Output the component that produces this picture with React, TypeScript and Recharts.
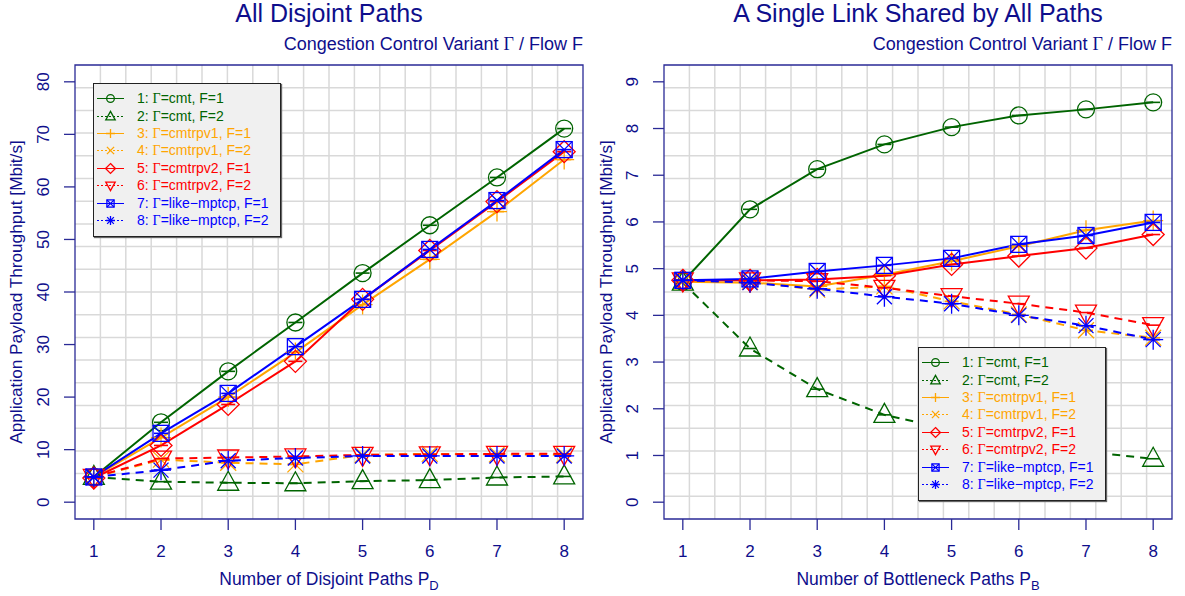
import React from "react";
import { LineChart, Line, XAxis, YAxis, CartesianGrid, ReferenceArea, Legend, Label } from "recharts";

// x values: number of paths
const paths = [1, 2, 3, 4, 5, 6, 7, 8];

// left panel: all disjoint paths [Mbit/s]
const disjointCmtF1 = [4.8, 15.2, 24.9, 34.2, 43.6, 52.7, 61.8, 71.1];
const disjointCmtF2 = [4.8, 3.9, 3.7, 3.6, 4.0, 4.2, 4.7, 4.9];
const disjointRpv1F1 = [4.8, 12.3, 20.0, 28.5, 37.6, 46.2, 55.3, 65.2];
const disjointRpv1F2 = [4.8, 8.1, 7.5, 7.2, 9.0, 9.2, 9.1, 9.0];
const disjointRpv2F1 = [4.6, 10.8, 18.6, 26.8, 38.6, 47.9, 57.2, 66.7];
const disjointRpv2F2 = [4.8, 8.3, 8.5, 8.7, 9.0, 9.1, 9.2, 9.2];
const disjointMptcpF1 = [4.8, 13.1, 20.7, 29.6, 38.6, 48.1, 57.4, 67.1];
const disjointMptcpF2 = [4.8, 6.1, 7.9, 8.4, 8.8, 8.8, 8.8, 8.8];

// right panel: single shared link [Mbit/s]
const sharedCmtF1 = [4.72, 6.27, 7.13, 7.66, 8.03, 8.28, 8.41, 8.56];
const sharedCmtF2 = [4.7, 3.29, 2.42, 1.87, 1.55, 1.28, 1.08, 0.93];
const sharedRpv1F1 = [4.72, 4.7, 4.62, 4.87, 5.16, 5.48, 5.82, 6.03];
const sharedRpv1F2 = [4.72, 4.72, 4.55, 4.62, 4.3, 4.02, 3.68, 3.52];
const sharedRpv2F1 = [4.75, 4.75, 4.77, 4.85, 5.09, 5.27, 5.44, 5.73];
const sharedRpv2F2 = [4.75, 4.75, 4.73, 4.59, 4.41, 4.25, 4.06, 3.79];
const sharedMptcpF1 = [4.75, 4.78, 4.94, 5.07, 5.22, 5.52, 5.71, 5.99];
const sharedMptcpF2 = [4.75, 4.7, 4.57, 4.4, 4.25, 4.0, 3.78, 3.48];

const variants = ["cmt", "cmt", "cmtrpv1", "cmtrpv1", "cmtrpv2", "cmtrpv2", "like\u2212mptcp", "like\u2212mptcp"];
const flows = [1, 2, 1, 2, 1, 2, 1, 2];

const leftTicks = [0, 10, 20, 30, 40, 50, 60, 70, 80];
const rightTicks = [0, 1, 2, 3, 4, 5, 6, 7, 8, 9];

// styles
const colors = ["#006400", "#006400", "#FFA500", "#FFA500", "#FF0000", "#FF0000", "#0000FF", "#0000FF"];
const shapes = ["circle", "triUp", "plus", "cross", "diamond", "triDown", "boxX", "star"];

const FONT = "'Liberation Sans', Arial, Helvetica, sans-serif";
const SERIF = "'Liberation Serif', 'DejaVu Serif', serif";
const NAVY = "#0e0e8c";
const AXIS = "#2a2a96";
const H = 596;
const PLOT_TOP = 65;
const PLOT_BOTTOM = 519;
const X_DOMAIN: [number, number] = [0.72, 8.28];

function Marker({ cx, cy, shape, color, k = 1, cap = false }: any) {
  if (cx == null || cy == null) return null;
  const st = { fill: "none", stroke: color, strokeWidth: 1.3 };
  let body: React.ReactNode = null;
  switch (shape) {
    case "circle":
      body = <circle cx={cx} cy={cy} r={8.5 * k} {...st} />;
      break;
    case "triUp":
      body = (
        <polygon
          points={`${cx},${cy - 11.5 * k} ${cx - 10.5 * k},${cy + 7.5 * k} ${cx + 10.5 * k},${cy + 7.5 * k}`}
          {...st}
        />
      );
      break;
    case "triDown":
      body = (
        <polygon
          points={`${cx},${cy + 11.5 * k} ${cx - 10.5 * k},${cy - 7.5 * k} ${cx + 10.5 * k},${cy - 7.5 * k}`}
          {...st}
        />
      );
      break;
    case "plus":
      body = (
        <path d={`M${cx - 10 * k},${cy}H${cx + 10 * k}M${cx},${cy - 10 * k}V${cy + 10 * k}`} {...st} />
      );
      break;
    case "cross":
      body = (
        <path
          d={`M${cx - 8 * k},${cy - 8 * k}L${cx + 8 * k},${cy + 8 * k}M${cx - 8 * k},${cy + 8 * k}L${cx + 8 * k},${cy - 8 * k}`}
          {...st}
        />
      );
      break;
    case "diamond":
      body = (
        <polygon
          points={`${cx},${cy - 11 * k} ${cx + 11 * k},${cy} ${cx},${cy + 11 * k} ${cx - 11 * k},${cy}`}
          {...st}
        />
      );
      break;
    case "boxX":
      body = (
        <g>
          <rect x={cx - 8 * k} y={cy - 8 * k} width={16 * k} height={16 * k} {...st} />
          <path
            d={`M${cx - 8 * k},${cy - 8 * k}L${cx + 8 * k},${cy + 8 * k}M${cx - 8 * k},${cy + 8 * k}L${cx + 8 * k},${cy - 8 * k}`}
            {...st}
          />
        </g>
      );
      break;
    case "star":
      body = (
        <path
          d={`M${cx - 10 * k},${cy}H${cx + 10 * k}M${cx},${cy - 10 * k}V${cy + 10 * k}M${cx - 7.5 * k},${cy - 7.5 * k}L${cx + 7.5 * k},${cy + 7.5 * k}M${cx - 7.5 * k},${cy + 7.5 * k}L${cx + 7.5 * k},${cy - 7.5 * k}`}
          {...st}
        />
      );
      break;
  }
  return (
    <g>
      {body}
      {cap && <line x1={cx - 7} x2={cx + 7} y1={cy} y2={cy} stroke={color} strokeWidth={1.6} />}
    </g>
  );
}

const LegendBox = () => (
  <div
    style={{
      width: 188,
      height: 154,
      boxSizing: "border-box",
      background: "#f0f0f0",
      border: "1px solid #222",
      boxShadow: "1px 1px 1px #666",
      paddingTop: 6,
      fontFamily: FONT,
      fontSize: 14,
    }}
  >
    {variants.map((v, i) => (
      <div key={i} style={{ display: "flex", alignItems: "center", height: 17.4, color: colors[i] }}>
        <svg width={43} height={17} style={{ flex: "none" }}>
          <line
            x1={3}
            x2={30}
            y1={8.5}
            y2={8.5}
            stroke={colors[i]}
            strokeWidth={1}
            strokeDasharray={flows[i] === 2 ? "2 2" : undefined}
          />
          <Marker cx={16.5} cy={8.5} shape={shapes[i]} color={colors[i]} k={0.45} />
        </svg>
        <span style={{ whiteSpace: "nowrap" }}>
          {i + 1}: <span style={{ fontFamily: SERIF }}>Γ</span>={v}, F={flows[i]}
        </span>
      </div>
    ))}
  </div>
);

function Panel({ x, width, plotLeft, plotRight, title, xMain, xSub, yDomain, yTicks, series, legendLeft, legendTop }: any) {
  const rows = paths.map((p, i) => {
    const r: any = { p };
    series.forEach((s: number[], j: number) => (r["s" + j] = s[i]));
    return r;
  });
  const vPts = Array.from({ length: 19 }, (_, k) => plotLeft + ((k + 1) * (plotRight - plotLeft)) / 20);
  const hPts = Array.from({ length: 19 }, (_, k) => PLOT_TOP + ((k + 1) * (PLOT_BOTTOM - PLOT_TOP)) / 20);
  const cx = (plotLeft + plotRight) / 2;
  const cy = (PLOT_TOP + PLOT_BOTTOM) / 2;

  return (
    <div style={{ position: "absolute", left: x, top: 0, width, height: H }}>
      <svg width={width} height={60} style={{ position: "absolute", left: 0, top: 0, fontFamily: FONT }}>
        <text x={cx} y={22} textAnchor="middle" fontSize={25} fill={NAVY}>
          {title}
        </text>
        <text x={plotRight} y={50} textAnchor="end" fontSize={18} fill={NAVY}>
          Congestion Control Variant <tspan fontFamily={SERIF}>Γ</tspan> / Flow F
        </text>
      </svg>
      <LineChart
        width={width}
        height={H}
        data={rows}
        margin={{ top: PLOT_TOP, right: width - plotRight, bottom: H - PLOT_BOTTOM - 40, left: plotLeft - 40 }}
        style={{ fontFamily: FONT }}
      >
        <CartesianGrid horizontalPoints={hPts} verticalPoints={vPts} stroke="#d9d9d9" strokeWidth={1.5} />
        <XAxis
          dataKey="p"
          type="number"
          domain={X_DOMAIN}
          ticks={paths}
          interval={0}
          allowDataOverflow
          height={40}
          axisLine={false}
          tickLine={{ stroke: AXIS, strokeWidth: 1.3 }}
          tickSize={11}
          tickMargin={15}
          tick={{ fill: NAVY, fontSize: 17 }}
        >
          <Label
            content={() => (
              <text x={cx} y={585} textAnchor="middle" fontSize={17.5} fill={NAVY}>
                {xMain}
                <tspan fontSize={13} dy={5}>
                  {xSub}
                </tspan>
              </text>
            )}
          />
        </XAxis>
        <YAxis
          type="number"
          domain={yDomain}
          ticks={yTicks}
          interval={0}
          allowDataOverflow
          width={40}
          axisLine={false}
          tickLine={{ stroke: AXIS, strokeWidth: 1.3 }}
          tickSize={11}
          tickMargin={15}
          tick={(t: any) => (
            <text
              x={t.x}
              y={t.y}
              transform={`rotate(-90 ${t.x} ${t.y})`}
              textAnchor="middle"
              fontSize={17}
              fill={NAVY}
            >
              {t.payload.value}
            </text>
          )}
        >
          <Label
            content={() => (
              <text
                x={22}
                y={cy}
                transform={`rotate(-90 22 ${cy})`}
                textAnchor="middle"
                fontSize={17.2}
                fill={NAVY}
              >
                Application Payload Throughput [Mbit/s]
              </text>
            )}
          />
        </YAxis>
        <ReferenceArea
          x1={X_DOMAIN[0]}
          x2={X_DOMAIN[1]}
          y1={yDomain[0]}
          y2={yDomain[1]}
          fill="none"
          stroke={AXIS}
          strokeWidth={1.3}
          fillOpacity={0}
        />
        {series.map((_: number[], j: number) => (
          <Line
            key={j}
            dataKey={"s" + j}
            type="linear"
            stroke={colors[j]}
            strokeWidth={2}
            strokeDasharray={flows[j] === 2 ? "8 6" : undefined}
            isAnimationActive={false}
            activeDot={false}
            dot={(p: any) => (
              <Marker key={"m" + j + "-" + p.index} cx={p.cx} cy={p.cy} shape={shapes[j]} color={colors[j]} cap />
            )}
          />
        ))}
        <Legend
          layout="vertical"
          align="center"
          verticalAlign="middle"
          content={() => <LegendBox />}
          wrapperStyle={{ position: "absolute", left: legendLeft, top: legendTop, width: 188, height: 154 }}
        />
      </LineChart>
    </div>
  );
}

export default function App() {
  return (
    <div style={{ position: "absolute", left: 0, top: 0, width: 1185, height: H, background: "#fff" }}>
      <Panel
        x={0}
        width={592}
        plotLeft={75}
        plotRight={583}
        title="All Disjoint Paths"
        xMain="Number of Disjoint Paths P"
        xSub="D"
        yDomain={[-3.2, 83.2]}
        yTicks={leftTicks}
        series={[
          disjointCmtF1,
          disjointCmtF2,
          disjointRpv1F1,
          disjointRpv1F2,
          disjointRpv2F1,
          disjointRpv2F2,
          disjointMptcpF1,
          disjointMptcpF2,
        ]}
        legendLeft={93}
        legendTop={83}
      />
      <Panel
        x={590}
        width={595}
        plotLeft={74}
        plotRight={582}
        title="A Single Link Shared by All Paths"
        xMain="Number of Bottleneck Paths P"
        xSub="B"
        yDomain={[-0.36, 9.36]}
        yTicks={rightTicks}
        series={[
          sharedCmtF1,
          sharedCmtF2,
          sharedRpv1F1,
          sharedRpv1F2,
          sharedRpv2F1,
          sharedRpv2F2,
          sharedMptcpF1,
          sharedMptcpF2,
        ]}
        legendLeft={328}
        legendTop={347}
      />
    </div>
  );
}
